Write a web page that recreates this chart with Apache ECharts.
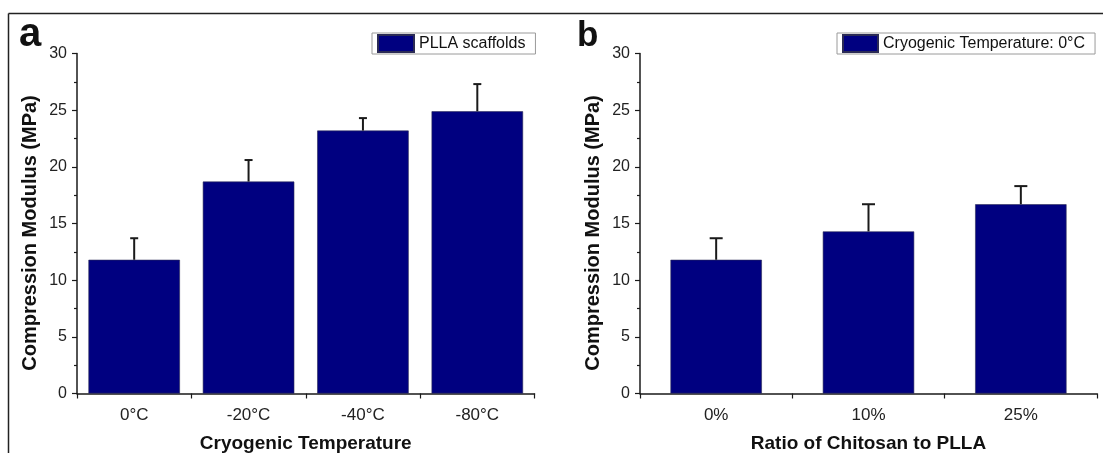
<!DOCTYPE html>
<html>
<head>
<meta charset="utf-8">
<script src="https://cdn.jsdelivr.net/npm/echarts@6/dist/echarts.min.js"></script>
<style>
html,body{margin:0;padding:0;background:#fff;}
#chart{width:1103px;height:453px;}
</style>
</head>
<body>
<div id="chart"></div>
<script>
// ---- data ----
const catsA = ['0°C', '-20°C', '-40°C', '-80°C'];
const valsA = [11.8, 18.7, 23.2, 24.9];
const errA = [1.9, 1.9, 1.1, 2.4];
const catsB = ['0%', '10%', '25%'];
const valsB = [11.8, 14.3, 16.7];
const errB = [1.9, 2.4, 1.6];
const yTicks = [0, 5, 10, 15, 20, 25, 30];
const nameA = 'PLLA scaffolds';
const nameB = 'Cryogenic Temperature: 0°C';

const FONT = '"Liberation Sans", Arial, sans-serif';
const BAR = '#000080';
const INK = '#1a1a1a';

const chart = echarts.init(document.getElementById('chart'), null, {renderer: 'canvas'});

function errItem(capW) {
  return function (params, api) {
    const x = api.value(0), v = api.value(1), e = api.value(2);
    const p0 = api.coord([x, v]);
    const p1 = api.coord([x, v + e]);
    const st = {stroke: INK, lineWidth: 2};
    return {
      type: 'group',
      children: [
        {type: 'line', shape: {x1: p0[0], y1: p0[1], x2: p1[0], y2: p1[1]}, style: st},
        {type: 'line', shape: {x1: p1[0] - capW / 2, y1: p1[1], x2: p1[0] + capW / 2, y2: p1[1]}, style: st}
      ]
    };
  };
}

function xAxisCfg(cats, gi, name) {
  return {
    type: 'category', gridIndex: gi, data: cats,
    name: name, nameLocation: 'middle', nameGap: 41,
    nameTextStyle: {fontFamily: FONT, fontSize: 19, fontWeight: 'bold', color: '#111'},
    axisLine: {show: true, lineStyle: {color: INK, width: 1.5}},
    axisTick: {show: true, inside: false, length: 5, lineStyle: {color: INK, width: 1.2}},
    axisLabel: {fontFamily: FONT, fontSize: 17, color: '#222', margin: 13},
    splitLine: {show: false}
  };
}
function yAxisCfg(gi) {
  return {
    type: 'value', gridIndex: gi, min: yTicks[0], max: yTicks[yTicks.length - 1], interval: 5,
    axisLine: {show: true, lineStyle: {color: INK, width: 1.5}},
    axisTick: {show: true, inside: false, length: 5, lineStyle: {color: INK, width: 1.2}},
    minorTick: {show: true, splitNumber: 2, length: 3, lineStyle: {color: INK, width: 1.2}},
    axisLabel: {fontFamily: FONT, fontSize: 16, color: '#222', margin: 10},
    splitLine: {show: false}
  };
}

const option = {
  backgroundColor: '#fff',
  animation: false,
  grid: [
    {left: 77, right: 568.5, top: 53.5, bottom: 59.5, containLabel: false, outerBoundsMode: 'none'},
    {left: 640, right: 6, top: 53.5, bottom: 59.5, containLabel: false, outerBoundsMode: 'none'}
  ],
  xAxis: [xAxisCfg(catsA, 0, 'Cryogenic Temperature'), xAxisCfg(catsB, 1, 'Ratio of Chitosan to PLLA')],
  yAxis: [yAxisCfg(0), yAxisCfg(1)],
  legend: [
    {
      data: [nameA], left: 372, top: 33, orient: 'horizontal',
      padding: [1, 10, 1, 5], itemWidth: 36, itemHeight: 17, itemGap: 5,
      borderColor: '#9a9a9a', borderWidth: 1, selectedMode: false, icon: 'rect',
      textStyle: {fontFamily: FONT, fontSize: 16, color: '#111'}
    },
    {
      data: [nameB], left: 837, top: 33, orient: 'horizontal',
      padding: [1, 10, 1, 5], itemWidth: 35, itemHeight: 17, itemGap: 5,
      borderColor: '#9a9a9a', borderWidth: 1, selectedMode: false, icon: 'rect',
      textStyle: {fontFamily: FONT, fontSize: 16, color: '#111'}
    }
  ],
  graphic: [
    {type: 'line', shape: {x1: 8.5, y1: 13.5, x2: 1103, y2: 13.5}, style: {stroke: '#222', lineWidth: 1.5}, silent: true},
    {type: 'line', shape: {x1: 8.5, y1: 13.5, x2: 8.5, y2: 453}, style: {stroke: '#222', lineWidth: 1.5}, silent: true},
    {type: 'text', x: 19, y: 55, style: {text: 'a', fontFamily: FONT, fontSize: 40, fontWeight: 'bold', fill: '#111', verticalAlign: 'bottom'}},
    {type: 'text', x: 577, y: 54, style: {text: 'b', fontFamily: FONT, fontSize: 35, fontWeight: 'bold', fill: '#111', verticalAlign: 'bottom'}},
    {type: 'text', x: 30, y: 233, rotation: Math.PI / 2, style: {text: 'Compression Modulus (MPa)', fontFamily: FONT, fontSize: 20, fontWeight: 'bold', fill: '#111', align: 'center', verticalAlign: 'middle'}},
    {type: 'text', x: 593, y: 233, rotation: Math.PI / 2, style: {text: 'Compression Modulus (MPa)', fontFamily: FONT, fontSize: 20, fontWeight: 'bold', fill: '#111', align: 'center', verticalAlign: 'middle'}}
  ],
  series: [
    {
      name: nameA, type: 'bar', xAxisIndex: 0, yAxisIndex: 0, data: valsA,
      barWidth: '80%', itemStyle: {color: BAR, borderColor: '#2b2b55', borderWidth: 0.6}
    },
    {
      name: 'errA', type: 'custom', xAxisIndex: 0, yAxisIndex: 0,
      data: valsA.map((v, i) => [i, v, errA[i]]), encode: {x: 0, y: 1},
      renderItem: errItem(8), z: 3
    },
    {
      name: nameB, type: 'bar', xAxisIndex: 1, yAxisIndex: 1, data: valsB,
      barWidth: '60%', itemStyle: {color: BAR, borderColor: '#2b2b55', borderWidth: 0.6}
    },
    {
      name: 'errB', type: 'custom', xAxisIndex: 1, yAxisIndex: 1,
      data: valsB.map((v, i) => [i, v, errB[i]]), encode: {x: 0, y: 1},
      renderItem: errItem(13), z: 3
    }
  ]
};
chart.setOption(option);
</script>
</body>
</html>
